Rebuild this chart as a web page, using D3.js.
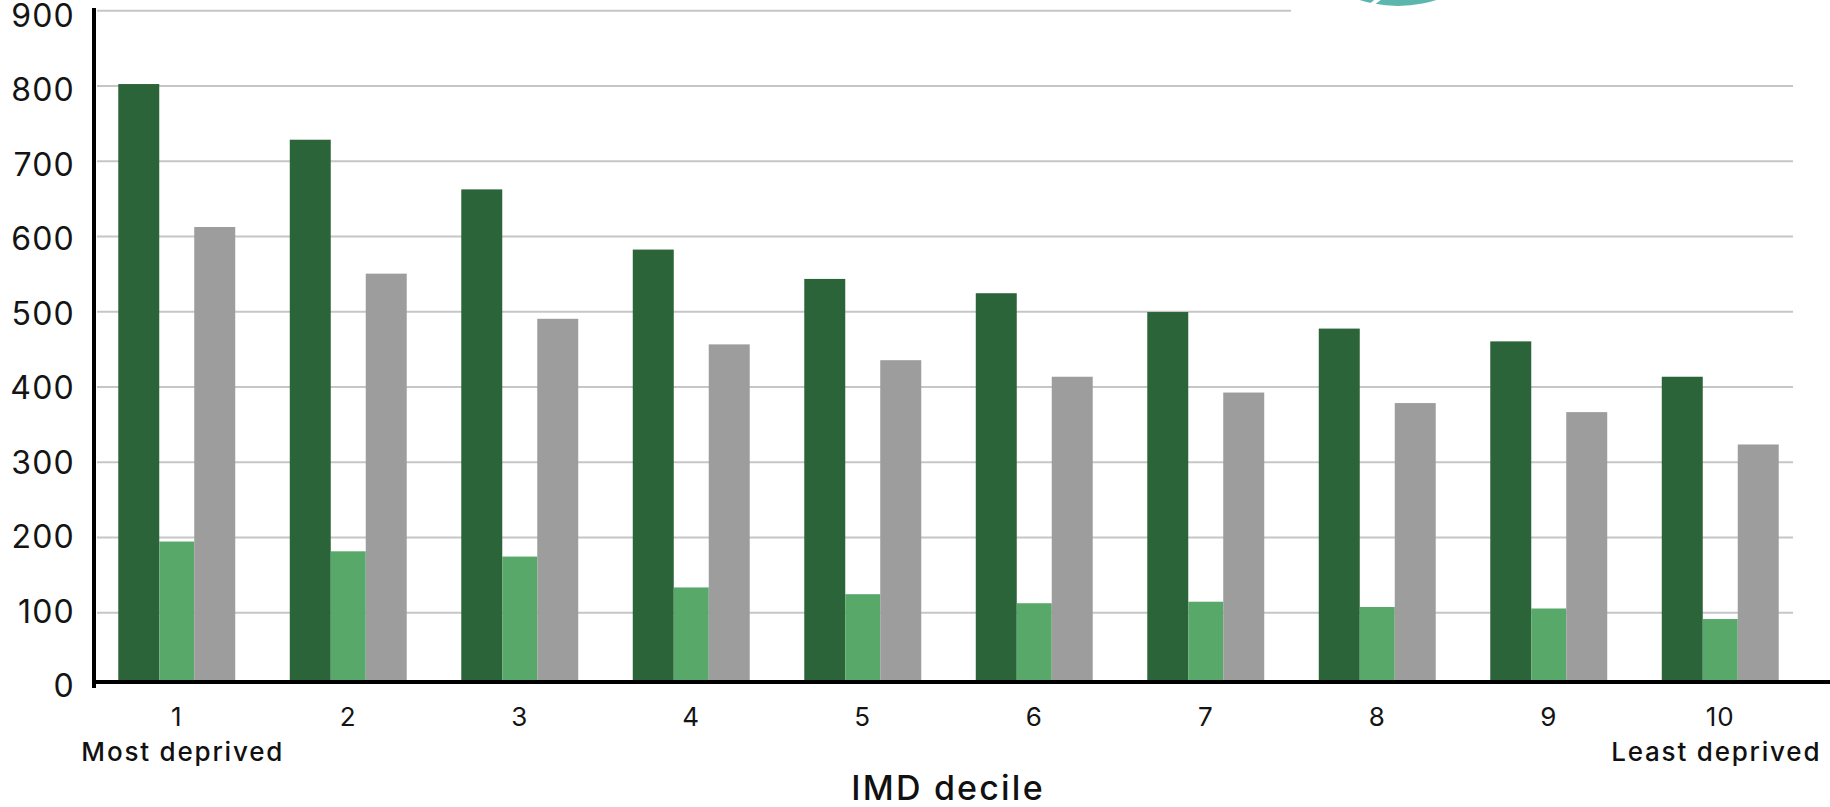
<!DOCTYPE html>
<html>
<head>
<meta charset="utf-8">
<script src="https://cdn.jsdelivr.net/npm/d3@7"></script>
<style>
  html, body { margin: 0; padding: 0; background: #ffffff; }
  svg { display: block; font-family: Inter, "Open Sans", sans-serif; }
</style>
</head>
<body>
<svg id="chart" width="1830" height="807"></svg>
<script>
// IMD deciles (1 = most deprived, 10 = least deprived)
const deciles = ["1", "2", "3", "4", "5", "6", "7", "8", "9", "10"];
const decileNotes = { "1": "Most deprived", "10": "Least deprived" };

// Three series per decile
const seriesOne   = [802, 728, 662, 582, 543, 524, 499, 477, 460, 413];
const seriesTwo   = [194, 181, 174, 133, 124, 112, 114, 107, 105, 91];
const seriesThree = [612, 550, 490, 456, 435, 413, 392, 378, 366, 323];

const yTicks = [0, 100, 200, 300, 400, 500, 600, 700, 800, 900];
const xTitle = "IMD decile";

// Drawing setup
const colours = ["#2c643a", "#58a86a", "#9d9d9d"];
const barWeights = [41, 35, 41];

const svg = d3.select("#chart");
const axisX = 94;        // vertical axis line
const baseY = 682;       // horizontal axis line
const gridRight = 1793;

const y = d3.scaleLinear().domain([0, 900]).range([687.5, 10.3]);
// tick labels sit on a slightly tighter ladder than the gridlines
const yLabel = d3.scaleLinear().domain([0, 900]).range([685, 15]);

const x = d3.scaleBand()
  .domain(deciles)
  .range([91, 1806])
  .paddingInner(0.318)
  .paddingOuter(0.159);

// sub-positions of the three bars inside each decile band
const totalW = d3.sum(barWeights);
const offsets = [0, ...d3.cumsum(barWeights)].map(v => v / totalW * x.bandwidth());

const rows = deciles.map((d, i) => ({
  decile: d,
  values: [seriesOne[i], seriesTwo[i], seriesThree[i]]
}));

// gridlines
const grid = svg.append("g")
  .attr("transform", `translate(${gridRight},0)`)
  .call(d3.axisLeft(y).tickValues(yTicks.filter(t => t > 0))
    .tickSize(gridRight - 97).tickFormat(""));
grid.select(".domain").remove();
grid.selectAll("line").attr("stroke", "#c6c6c6").attr("stroke-width", 2);

// logo corner overlapping the top of the plot
svg.append("rect").attr("x", 1291).attr("y", 0).attr("width", 539).attr("height", 20).attr("fill", "#ffffff");
svg.append("circle").attr("cx", 1398).attr("cy", -120).attr("r", 126).attr("fill", "#5bb7ae");
svg.append("line").attr("x1", 1366).attr("y1", 9).attr("x2", 1380).attr("y2", -2)
  .attr("stroke", "#ffffff").attr("stroke-width", 4);

// bars
const groups = svg.append("g").selectAll("g")
  .data(rows).join("g")
  .attr("transform", d => `translate(${x(d.decile)},0)`);

groups.selectAll("rect")
  .data(d => d.values.map((v, j) => ({ v, j })))
  .join("rect")
  .attr("x", d => offsets[d.j])
  .attr("width", d => offsets[d.j + 1] - offsets[d.j])
  .attr("y", d => y(d.v))
  .attr("height", d => baseY - y(d.v))
  .attr("fill", d => colours[d.j]);

// y axis labels
const yAxis = svg.append("g")
  .attr("transform", `translate(${axisX},0)`)
  .call(d3.axisLeft(yLabel).tickValues(yTicks).tickSize(0).tickPadding(19));
yAxis.select(".domain").remove();
yAxis.selectAll("text")
  .attr("font-size", 32)
  .attr("dy", "0.36em")
  .attr("letter-spacing", 1.2)
  .attr("fill", "#141414")
  .attr("font-family", "Inter, sans-serif");

// x axis labels
const xAxis = svg.append("g")
  .attr("transform", `translate(0,${baseY})`)
  .call(d3.axisBottom(x).tickSize(0).tickPadding(26));
xAxis.select(".domain").remove();
xAxis.selectAll("text")
  .attr("font-size", 26)
  .attr("letter-spacing", 1)
  .attr("fill", "#141414")
  .attr("font-family", "Inter, sans-serif");

// end-of-scale notes under deciles 1 and 10
svg.append("g").selectAll("text")
  .data(Object.entries(decileNotes))
  .join("text")
  .attr("x", d => x(d[0]) + x.bandwidth() / 2 + (d[0] === "1" ? 6 : -4))
  .attr("y", 761)
  .attr("text-anchor", "middle")
  .attr("font-size", 26)
  .attr("font-weight", 500)
  .attr("letter-spacing", 1.8)
  .attr("fill", "#111111")
  .text(d => d[1]);

// axis lines
svg.append("line")
  .attr("x1", axisX).attr("x2", axisX)
  .attr("y1", 8).attr("y2", 688)
  .attr("stroke", "#000000").attr("stroke-width", 4);
svg.append("line")
  .attr("x1", axisX - 2).attr("x2", 1830)
  .attr("y1", baseY).attr("y2", baseY)
  .attr("stroke", "#000000").attr("stroke-width", 4);

// x axis title
svg.append("text")
  .attr("x", 948)
  .attr("y", 800)
  .attr("text-anchor", "middle")
  .attr("font-size", 34)
  .attr("font-weight", 500)
  .attr("letter-spacing", 2.2)
  .attr("fill", "#111111")
  .text(xTitle);
</script>
</body>
</html>
